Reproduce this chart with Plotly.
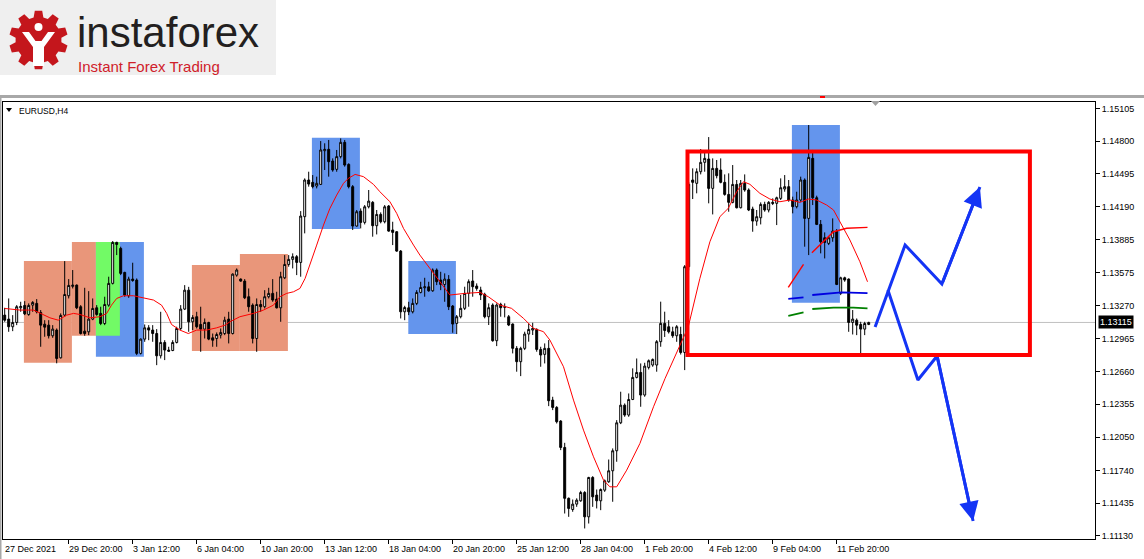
import math
import plotly.graph_objects as go

# ---------------- data (EURUSD H4) ----------------
bar_open = [1.13183,1.13146,1.13075,1.13115,1.13251,1.13273,1.13189,1.13276,1.13292,1.13208,
1.13099,1.13090,1.12991,1.13044,1.12786,1.13183,1.13363,1.13450,1.13462,1.13261,
1.13034,1.13028,1.13146,1.13251,1.13199,1.13105,1.13276,1.13478,1.13859,1.13803,
1.13580,1.13363,1.13518,1.13509,1.12827,1.12960,1.13065,1.13044,1.13012,1.12805,
1.12929,1.12858,1.12854,1.12929,1.13059,1.13239,1.13415,1.13121,1.13168,1.13096,
1.13053,1.13115,1.12972,1.12966,1.12997,1.13012,1.13146,1.13012,1.13555,1.13518,
1.13499,1.13354,1.13276,1.12966,1.13282,1.13261,1.13354,1.13385,1.13332,1.13251,
1.13530,1.13654,1.13701,1.13726,1.13673,1.14098,1.14439,1.14417,1.14383,1.14398,
1.14711,1.14724,1.14615,1.14538,1.14656,1.14789,1.14584,1.14377,1.14011,1.14150,
1.14045,1.14190,1.14231,1.14014,1.14119,1.14051,1.14197,1.13974,1.13958,1.13778,
1.13214,1.13251,1.13214,1.13292,1.13394,1.13437,1.13446,1.13409,1.13602,1.13509,
1.13468,1.13515,1.13267,1.13106,1.13168,1.13246,1.13385,1.13500,1.13453,1.13416,
1.13376,1.13168,1.13277,1.12945,1.13283,1.13255,1.13168,1.13100,1.12874,1.12750,
1.12874,1.13007,1.13044,1.13050,1.12864,1.12818,1.12874,1.12393,1.12325,1.12198,
1.11953,1.11480,1.11376,1.11426,1.11457,1.11534,1.11308,1.11674,1.11510,1.11457,
1.11556,1.11634,1.11736,1.11922,1.12182,1.12346,1.12254,1.12399,1.12604,1.12650,
1.12440,1.12697,1.12719,1.12719,1.12936,1.13106,1.13075,1.13028,1.12991,1.13003,
1.12836,1.13633,1.14439,1.14408,1.14516,1.14603,1.14634,1.14361,1.14547,1.14532,
1.14417,1.14305,1.14231,1.14398,1.14181,1.14408,1.14346,1.14169,1.14057,1.14088,
1.14212,1.14160,1.14231,1.14222,1.14268,1.14355,1.14377,1.14253,1.14191,1.14253,
1.14439,1.14082,1.14640,1.14274,1.14026,1.13902,1.13850,1.13902,1.13964,1.13385,
1.13530,1.13518,1.13115,1.13136,1.13096,1.13053,1.13096]
bar_high = [1.13251,1.13338,1.13183,1.13276,1.13307,1.13313,1.13292,1.13313,1.13332,1.13230,
1.13136,1.13136,1.13090,1.13059,1.13199,1.13685,1.13518,1.13602,1.13468,1.13276,
1.13437,1.13406,1.13338,1.13276,1.13261,1.13354,1.13540,1.13871,1.13865,1.13819,
1.13586,1.13540,1.13670,1.13524,1.12966,1.13096,1.13090,1.13090,1.13053,1.13214,
1.12950,1.12889,1.12950,1.13075,1.13276,1.13462,1.13446,1.13183,1.13214,1.13261,
1.13152,1.13121,1.13012,1.13022,1.13059,1.13168,1.13214,1.13571,1.13617,1.13524,
1.13518,1.13431,1.13292,1.13338,1.13323,1.13415,1.13437,1.13518,1.13400,1.13586,
1.13741,1.13741,1.13757,1.13741,1.14150,1.14454,1.14516,1.14485,1.14470,1.14801,
1.14780,1.14811,1.14640,1.14718,1.14826,1.14811,1.14594,1.14392,1.14160,1.14175,
1.14206,1.14346,1.14243,1.14160,1.14138,1.14206,1.14206,1.14051,1.13964,1.13788,
1.13270,1.13307,1.13338,1.13415,1.13493,1.13530,1.13493,1.13617,1.13617,1.13586,
1.13571,1.13555,1.13277,1.13184,1.13370,1.13447,1.13515,1.13602,1.13478,1.13447,
1.13391,1.13292,1.13292,1.13292,1.13298,1.13292,1.13184,1.13106,1.12895,1.12889,
1.13029,1.13106,1.13112,1.13060,1.12889,1.12920,1.12951,1.12424,1.12337,1.12207,
1.11996,1.11488,1.11469,1.11480,1.11550,1.11547,1.11680,1.11686,1.11562,1.11572,
1.11655,1.11841,1.11944,1.12207,1.12471,1.12362,1.12455,1.12688,1.12780,1.12734,
1.12740,1.12771,1.12780,1.12951,1.13308,1.13215,1.13136,1.13075,1.13090,1.13075,
1.13648,1.14420,1.14547,1.14547,1.14727,1.14702,1.14838,1.14640,1.14625,1.14640,
1.14491,1.14501,1.14578,1.14439,1.14439,1.14491,1.14361,1.14191,1.14160,1.14231,
1.14237,1.14243,1.14268,1.14284,1.14454,1.14485,1.14439,1.14284,1.14330,1.14470,
1.14454,1.14950,1.14718,1.14293,1.14067,1.13952,1.13912,1.14082,1.13983,1.13540,
1.13540,1.13524,1.13230,1.13152,1.13121,1.13121,1.13121]
bar_low = [1.13121,1.13028,1.13034,1.13090,1.13214,1.13183,1.13177,1.13214,1.13199,1.12889,
1.12982,1.12966,1.12972,1.12735,1.12780,1.13168,1.13338,1.13431,1.13239,1.13003,
1.12991,1.12997,1.13136,1.13177,1.13090,1.13090,1.13261,1.13468,1.13741,1.13555,
1.13354,1.13344,1.13493,1.12811,1.12817,1.12935,1.12950,1.12935,1.12718,1.12780,
1.12765,1.12842,1.12848,1.12920,1.13044,1.13230,1.13028,1.13044,1.13059,1.12842,
1.12966,1.12950,1.12889,1.12889,1.12966,1.12997,1.12920,1.13003,1.13540,1.13493,
1.13332,1.13214,1.12920,1.12842,1.13214,1.13245,1.13338,1.13307,1.13245,1.13121,
1.13518,1.13633,1.13617,1.13555,1.13540,1.13943,1.14377,1.14361,1.14361,1.14392,
1.14532,1.14470,1.14516,1.14516,1.14640,1.14563,1.14361,1.13974,1.14005,1.13989,
1.14026,1.14175,1.13912,1.13933,1.14036,1.14036,1.13958,1.13834,1.13772,1.13152,
1.13136,1.13183,1.13199,1.13276,1.13385,1.13354,1.13400,1.13400,1.13462,1.13415,
1.13307,1.13230,1.13019,1.13007,1.13153,1.13230,1.13261,1.13354,1.13410,1.13323,
1.13153,1.13091,1.12936,1.12895,1.13168,1.13162,1.13081,1.12827,1.12657,1.12616,
1.12858,1.12936,1.12998,1.12843,1.12703,1.12734,1.12337,1.12300,1.12176,1.11928,
1.11339,1.11308,1.11355,1.11401,1.11448,1.11200,1.11246,1.11401,1.11386,1.11370,
1.11540,1.11624,1.11448,1.11820,1.12170,1.12238,1.12238,1.12393,1.12595,1.12331,
1.12424,1.12678,1.12703,1.12657,1.12889,1.12980,1.13012,1.12972,1.12935,1.12817,
1.12672,1.13600,1.14262,1.14315,1.14491,1.14516,1.14222,1.14119,1.14454,1.14408,
1.14293,1.14144,1.14222,1.14175,1.14175,1.14330,1.14150,1.13958,1.14014,1.14026,
1.14144,1.14138,1.14206,1.14020,1.14253,1.14330,1.14237,1.14129,1.14175,1.14237,
1.13819,1.13741,1.14206,1.14020,1.13757,1.13710,1.13834,1.13865,1.13462,1.13369,
1.13493,1.13028,1.13003,1.12997,1.12817,1.12997,1.13090]
bar_close = [1.13136,1.13075,1.13115,1.13261,1.13264,1.13195,1.13273,1.13301,1.13214,1.13090,
1.13071,1.12991,1.13053,1.12780,1.13180,1.13375,1.13459,1.13462,1.13251,1.13012,
1.13012,1.13146,1.13245,1.13189,1.13105,1.13282,1.13478,1.13859,1.13840,1.13571,
1.13369,1.13518,1.13505,1.12827,1.12960,1.13065,1.13044,1.13012,1.12805,1.12929,
1.12858,1.12848,1.12929,1.13059,1.13239,1.13415,1.13121,1.13161,1.13075,1.13053,
1.13115,1.12960,1.12950,1.13003,1.13022,1.13136,1.13012,1.13564,1.13602,1.13499,
1.13344,1.13261,1.12966,1.13282,1.13261,1.13354,1.13385,1.13323,1.13251,1.13540,
1.13654,1.13701,1.13726,1.13673,1.14104,1.14439,1.14401,1.14377,1.14408,1.14718,
1.14724,1.14609,1.14532,1.14656,1.14789,1.14578,1.14377,1.14011,1.14144,1.14045,
1.14190,1.14243,1.14014,1.14119,1.14051,1.14190,1.13964,1.13952,1.13778,1.13214,
1.13254,1.13214,1.13292,1.13394,1.13440,1.13446,1.13409,1.13602,1.13493,1.13468,
1.13518,1.13261,1.13100,1.13168,1.13246,1.13385,1.13494,1.13447,1.13431,1.13370,
1.13168,1.13252,1.12945,1.13277,1.13252,1.13261,1.13091,1.12874,1.12750,1.12874,
1.13007,1.13050,1.13060,1.12864,1.12812,1.12874,1.12387,1.12325,1.12192,1.11953,
1.11480,1.11386,1.11426,1.11463,1.11534,1.11308,1.11674,1.11494,1.11457,1.11562,
1.11643,1.11736,1.11922,1.12182,1.12346,1.12254,1.12399,1.12604,1.12650,1.12440,
1.12709,1.12759,1.12771,1.12936,1.13106,1.13040,1.13028,1.12991,1.13075,1.12836,
1.13633,1.14400,1.14417,1.14516,1.14603,1.14640,1.14361,1.14547,1.14479,1.14417,
1.14305,1.14231,1.14398,1.14181,1.14408,1.14346,1.14160,1.14057,1.14098,1.14212,
1.14160,1.14231,1.14222,1.14274,1.14367,1.14377,1.14253,1.14191,1.14253,1.14439,
1.14082,1.14649,1.14274,1.14026,1.13865,1.13859,1.13902,1.13964,1.13468,1.13530,
1.13509,1.13115,1.13146,1.13090,1.13053,1.13105,1.13115]
bar_index = list(range(len(bar_close)))

x_label_pos = [0, 16, 32, 48, 64, 80, 96, 112, 128, 144, 160, 176, 192, 208]
x_label_text = ["27 Dec 2021", "29 Dec 20:00", "3 Jan 12:00", "6 Jan 04:00", "10 Jan 20:00",
                "13 Jan 12:00", "18 Jan 04:00", "20 Jan 20:00", "25 Jan 12:00", "28 Jan 04:00",
                "1 Feb 20:00", "4 Feb 12:00", "9 Feb 04:00", "11 Feb 20:00"]
y_tick_vals = [1.15105, 1.14800, 1.14495, 1.14190, 1.13885, 1.13575, 1.13270,
               1.12965, 1.12660, 1.12355, 1.12050, 1.11740, 1.11435, 1.11130]
last_price = 1.13115

ma_fast_x = [0.0, 3.8, 7.2, 8.8, 11.3, 13.4, 15.5, 17.2, 18.8, 21.3, 23.8, 25.5, 26.7, 28.0, 29.7,
             32.2, 34.7, 37.2, 39.2, 40.5, 41.7, 43.8, 45.9, 48.0, 50.5, 53.0, 55.1, 56.3, 58.8,
             62.2, 64.7, 67.2, 68.8, 70.5, 72.2, 73.8, 75.1, 76.3, 78.0, 79.7, 81.3, 83.0, 84.7,
             85.9, 87.6, 89.7, 92.2, 93.8, 96.3, 98.0, 99.7, 102.2, 103.8, 106.3, 108.8, 111.3,
             115.1, 118.8, 120.9, 123.8, 126.7, 129.7, 132.2, 134.7, 136.3, 138.0, 139.7, 142.2,
             144.7, 147.2, 149.7, 151.3, 153.0, 155.5, 158.8, 162.2, 165.1, 170.9, 173.8, 176.3,
             178.8, 180.9, 183.0, 184.7, 186.3, 188.8, 191.3, 193.8, 196.3, 198.8, 200.9, 203.0,
             205.5, 207.2, 208.8, 211.3, 213.8, 215.7]
ma_fast_y = [1.13245, 1.13230, 1.13230, 1.13199, 1.13158, 1.13136, 1.13183, 1.13199, 1.13189,
             1.13158, 1.13168, 1.13199, 1.13276, 1.13338, 1.13363, 1.13363, 1.13344, 1.13323,
             1.13276, 1.13199, 1.13096, 1.13044, 1.13012, 1.13044, 1.13044, 1.13065, 1.13090,
             1.13121, 1.13168, 1.13199, 1.13230, 1.13276, 1.13354, 1.13385, 1.13400, 1.13431,
             1.13524, 1.13648, 1.13834, 1.14020, 1.14175, 1.14299, 1.14408, 1.14454, 1.14491,
             1.14470, 1.14398, 1.14330, 1.14237, 1.14129, 1.13989, 1.13834, 1.13741, 1.13617,
             1.13493, 1.13370, 1.13385, 1.13394, 1.13354, 1.13277, 1.13246, 1.13153, 1.13060,
             1.13029, 1.12951, 1.12827, 1.12703, 1.12393, 1.12114, 1.11866, 1.11649, 1.11587,
             1.11587, 1.11742, 1.11990, 1.12331, 1.12595, 1.13075, 1.13525, 1.13865, 1.14098,
             1.14176, 1.14330, 1.14423, 1.14399, 1.14315, 1.14262, 1.14237, 1.14253, 1.14231,
             1.14262, 1.14253, 1.14206, 1.14160, 1.14051, 1.13881, 1.13679, 1.13493]

ma_slow_x = [195.9, 199.7, None, 201.8, 207.2, 210.5, 215.7]
ma_slow_y = [1.13441, 1.13655, None, 1.13763, 1.13958, 1.13990, 1.13999]
ma_blue_x = [195.9, 199.7, None, 201.9, 207.2, 209.2, 215.7]
ma_blue_y = [1.13333, 1.13348, None, 1.13370, 1.13391, 1.13395, 1.13388]
ma_green_x = [195.9, 199.7, None, 201.9, 207.2, 212.2, 215.7]
ma_green_y = [1.13177, 1.13209, None, 1.13240, 1.13252, 1.13252, 1.13246]

# highlighted zones: start bar, end bar, low, high, colour
zone_x0 = [4.8, 16.8, 22.8, 22.8, 46.8, 58.8, 76.8, 100.9, 196.8]
zone_x1 = [16.8, 22.8, 34.8, 28.8, 58.8, 70.8, 88.8, 112.8, 208.8]
zone_lo = [1.12741, 1.12992, 1.12796, 1.12992, 1.12849, 1.12849, 1.13983, 1.13007, 1.13298]
zone_hi = [1.13686, 1.13862, 1.13862, 1.13862, 1.13649, 1.13751, 1.14832, 1.13686, 1.14950]
zone_col = ["#e9967a", "#e9967a", "#6495ed", "#72fa66", "#e9967a", "#e9967a",
            "#6495ed", "#6495ed", "#6495ed"]

frame_x = [170.7, 256.3]
frame_y = [1.12812, 1.14705]

path_up_x = [217.6, 225.1, 234.3, 243.8]
path_up_y = [1.13072, 1.13835, 1.13472, 1.14374]
path_dn_x = [220.8, 228.3, 233.1, 242.1]
path_dn_y = [1.13416, 1.12580, 1.12803, 1.11269]

# ---------------- geometry helpers ----------------
W, H = 1144, 559
L, R, T, B = 3, 1095, 102, 539
XR = [-0.425, -0.425 + (R - L) / 4.0]
YR = [1.11102, 1.15164]


def to_paper(xp, yp):
    return (xp - L) / (R - L), (B - yp) / (B - T)


def path_from(points):
    s = ""
    for k, (a, b) in enumerate(points):
        X, Y = to_paper(a, b)
        s += ("M" if k == 0 else "L") + f"{X:.5f},{Y:.5f} "
    return s + "Z"


fig = go.Figure()

fig.add_trace(go.Candlestick(
    x=bar_index, open=bar_open, high=bar_high, low=bar_low, close=bar_close,
    increasing=dict(line=dict(color="black", width=1), fillcolor="white"),
    decreasing=dict(line=dict(color="black", width=1), fillcolor="black"),
    whiskerwidth=0, showlegend=False, hoverinfo="skip"))

fig.add_trace(go.Scatter(x=ma_fast_x, y=ma_fast_y, mode="lines",
                         line=dict(color="#ff0000", width=1), showlegend=False, hoverinfo="skip"))
fig.add_trace(go.Scatter(x=ma_slow_x, y=ma_slow_y, mode="lines",
                         line=dict(color="#ff0000", width=1.4), showlegend=False, hoverinfo="skip"))
fig.add_trace(go.Scatter(x=ma_blue_x, y=ma_blue_y, mode="lines",
                         line=dict(color="#0000e0", width=1.8), showlegend=False, hoverinfo="skip"))
fig.add_trace(go.Scatter(x=ma_green_x, y=ma_green_y, mode="lines",
                         line=dict(color="#008000", width=1.8), showlegend=False, hoverinfo="skip"))

arrow_col = "#1434f5"
for px_, py_ in ((path_up_x, path_up_y), (path_dn_x, path_dn_y)):
    fig.add_trace(go.Scatter(x=px_, y=py_, mode="lines",
                             line=dict(color=arrow_col, width=3), showlegend=False,
                             hoverinfo="skip"))

shapes = []
# zones (behind candles)
for x0, x1, lo, hi, c in zip(zone_x0, zone_x1, zone_lo, zone_hi, zone_col):
    shapes.append(dict(type="rect", xref="x", yref="y", x0=x0, x1=x1, y0=lo, y1=hi,
                       fillcolor=c, line=dict(width=0), layer="below"))
# last price line
shapes.append(dict(type="line", xref="paper", yref="y", x0=0, x1=1, y0=last_price,
                   y1=last_price, line=dict(color="#c0c0c0", width=1), layer="below"))
# red frame
shapes.append(dict(type="rect", xref="x", yref="y", x0=frame_x[0], x1=frame_x[1],
                   y0=frame_y[0], y1=frame_y[1], line=dict(color="#ff0000", width=4),
                   fillcolor="rgba(0,0,0,0)", layer="above"))

# window decorations
x0p, y0p = to_paper(0, 0)
x1p, y1p = to_paper(276, 75)
shapes.append(dict(type="rect", xref="paper", yref="paper", x0=x0p, x1=x1p, y0=y1p, y1=y0p,
                   fillcolor="#efefef", line=dict(width=0), layer="below"))
a, b = to_paper(0, 95)
c, d = to_paper(W, 98)
shapes.append(dict(type="rect", xref="paper", yref="paper", x0=a, x1=c, y0=d, y1=b,
                   fillcolor="#a8a8a8", line=dict(width=0), layer="above"))
a, b = to_paper(0, 95)
c, d = to_paper(1.5, H)
shapes.append(dict(type="rect", xref="paper", yref="paper", x0=a, x1=c, y0=d, y1=b,
                   fillcolor="#a8a8a8", line=dict(width=0), layer="above"))
shapes.append(dict(type="path", xref="paper", yref="paper",
                   path=path_from([(820, 96), (825, 96), (825, 98), (820, 98)]),
                   fillcolor="#ff0000", line=dict(width=0)))
shapes.append(dict(type="path", xref="paper", yref="paper",
                   path=path_from([(871, 101), (880, 101), (875.5, 106)]),
                   fillcolor="#a0a0a0", line=dict(width=0)))
shapes.append(dict(type="path", xref="paper", yref="paper",
                   path=path_from([(6, 108), (12, 108), (9, 112)]),
                   fillcolor="#000000", line=dict(width=0)))

# logo gear
cx, cy, r_out, r_in, n = 38.5, 40.0, 29.5, 23.0, 10
gear_pts = []
step = 2 * math.pi / n
for k in range(n):
    base = k * step + step / 2
    for rr, off in ((r_in, -0.34), (r_out, -0.2), (r_out, 0.2), (r_in, 0.34)):
        ang = base + off * step
        gear_pts.append((cx + rr * math.cos(ang), cy + rr * math.sin(ang)))
shapes.append(dict(type="path", xref="paper", yref="paper", path=path_from(gear_pts),
                   fillcolor="#c4161c", line=dict(width=0)))
hx0, hy0 = to_paper(34.5, 23.0)
hx1, hy1 = to_paper(42.5, 31.0)
shapes.append(dict(type="circle", xref="paper", yref="paper", x0=hx0, x1=hx1, y0=hy1, y1=hy0,
                   fillcolor="white", line=dict(width=0)))
shapes.append(dict(type="path", xref="paper", yref="paper",
                   path=path_from([(22, 32), (29, 32), (35.5, 41), (41.5, 41), (48, 32), (55, 32),
                                   (44, 47), (44, 66), (33, 66), (33, 47)]),
                   fillcolor="white", line=dict(width=0)))

annotations = []
tx, ty = to_paper(76, 56.8)
annotations.append(dict(x=tx, y=ty, xref="paper", yref="paper", text="instaforex",
                        showarrow=False, xanchor="left", yanchor="bottom", borderpad=0,
                        font=dict(family="Liberation Sans", size=42, color="#231f20")))
tx, ty = to_paper(77, 57.2)
annotations.append(dict(x=tx, y=ty, xref="paper", yref="paper", text="Instant Forex Trading",
                        showarrow=False, xanchor="left", yanchor="top", borderpad=0,
                        font=dict(family="Liberation Sans", size=15, color="#d0202a")))
tx, ty = to_paper(17, 110.5)
annotations.append(dict(x=tx, y=ty, xref="paper", yref="paper", text="EURUSD,H4",
                        showarrow=False, xanchor="left", yanchor="middle",
                        font=dict(family="Liberation Sans", size=8.5, color="black")))
_, ly = to_paper(0, 549)
for pos, txt in zip(x_label_pos, x_label_text):
    annotations.append(dict(x=pos, y=ly, xref="x", yref="paper", text=txt, showarrow=False,
                            xanchor="left", yanchor="middle", xshift=-2,
                            font=dict(family="Liberation Sans", size=9, color="black")))
annotations.append(dict(x=1, y=last_price, xref="paper", yref="y", text="1.13115",
                        showarrow=False, xanchor="left", yanchor="middle", xshift=3,
                        bgcolor="black", borderpad=1,
                        font=dict(family="Liberation Sans", size=9, color="white")))
for px_, py_ in ((path_up_x, path_up_y), (path_dn_x, path_dn_y)):
    annotations.append(dict(x=px_[-1], y=py_[-1], ax=px_[-2], ay=py_[-2], xref="x", yref="y",
                            axref="x", ayref="y", text="", showarrow=True, arrowhead=2,
                            arrowsize=1.3, arrowwidth=3, arrowcolor=arrow_col, standoff=0))

fig.update_layout(
    width=W, height=H, autosize=False,
    margin=dict(l=L, r=W - R, t=T, b=H - B, pad=0),
    paper_bgcolor="white", plot_bgcolor="white",
    font=dict(family="Liberation Sans", size=9, color="black"),
    showlegend=False, shapes=shapes, annotations=annotations, hovermode=False,
    xaxis=dict(range=XR, showgrid=False, zeroline=False, showline=True, linecolor="black",
               linewidth=1, mirror=True, ticks="outside", ticklen=4, tickcolor="black",
               tickvals=x_label_pos[1:], showticklabels=False, fixedrange=True,
               rangeslider=dict(visible=False)),
    yaxis=dict(range=YR, side="right", showgrid=False, zeroline=False, showline=True,
               linecolor="black", linewidth=1, mirror=True, ticks="outside", ticklen=4,
               tickcolor="black", tickvals=y_tick_vals,
               ticktext=[f"{v:.5f}" for v in y_tick_vals], fixedrange=True,
               tickfont=dict(family="Liberation Sans", size=9, color="black")),
)

fig.write_html("out.html", config={"displayModeBar": False},
               post_script="document.body.style.margin='0';document.body.style.overflow='hidden';")
